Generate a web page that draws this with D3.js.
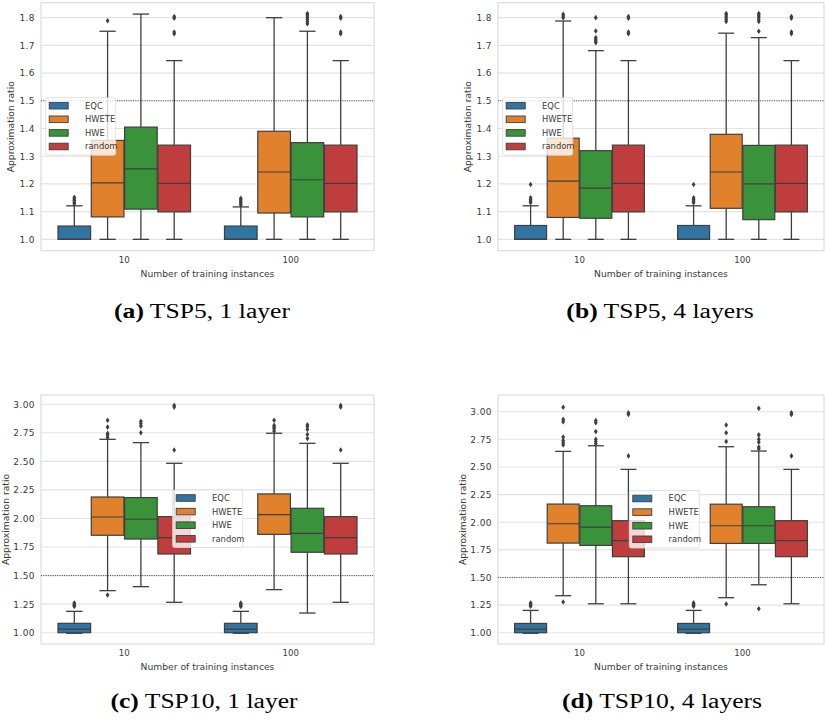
<!DOCTYPE html>
<html>
<head>
<meta charset="utf-8">
<script src="https://cdn.jsdelivr.net/npm/d3@7"></script>
<style>
body { margin: 0; background: #fff; }
</style>
</head>
<body>
<svg id="fig" width="825" height="720" font-family="DejaVu Sans, sans-serif"></svg>
<script>
// ---- data ----
var hues = ["EQC", "HWETE", "HWE", "random"];
var hueColors = ["#3274a1", "#e1812c", "#3a923a", "#c03d3e"];
var groups = ["10", "100"];
var captionTags = ["(a)", "(b)", "(c)", "(d)"];
var captionTexts = ["TSP5, 1 layer", "TSP5, 4 layers", "TSP10, 1 layer", "TSP10, 4 layers"];
var ticksTsp5 = [1.0, 1.1, 1.2, 1.3, 1.4, 1.5, 1.6, 1.7, 1.8];
var ticksTsp10 = [1.00, 1.25, 1.50, 1.75, 2.00, 2.25, 2.50, 2.75, 3.00];
var domainTsp5 = [0.959, 1.854];
var domainTsp10L1 = [0.901, 3.081];
var domainTsp10L4 = [0.898, 3.151];
var refLine = 1.5;

// box stats: [whislo, q1, median, q3, whishi], order: group 10 (EQC, HWETE, HWE, random), group 100 (...)
var tsp5L1 = [
  [1.0, 1.0, 1.0, 1.048, 1.121], [1.0, 1.081, 1.204, 1.357, 1.751], [1.0, 1.109, 1.254, 1.405, 1.813], [1.0, 1.099, 1.202, 1.340, 1.645],
  [1.0, 1.0, 1.0, 1.048, 1.117], [1.0, 1.095, 1.243, 1.390, 1.800], [1.0, 1.081, 1.215, 1.349, 1.751], [1.0, 1.099, 1.202, 1.340, 1.645]
];
var tsp5L1Out = [
  [1.128, 1.134, 1.140, 1.146, 1.152], [1.789], [], [1.742, 1.748, 1.798, 1.804],
  [1.124, 1.130, 1.136, 1.142, 1.148], [], [1.778, 1.786, 1.794, 1.802, 1.810, 1.815], [1.742, 1.748, 1.798, 1.804]
];
var tsp5L4 = [
  [1.0, 1.0, 1.0, 1.050, 1.121], [1.0, 1.079, 1.210, 1.365, 1.788], [1.0, 1.076, 1.185, 1.320, 1.681], [1.0, 1.099, 1.202, 1.340, 1.645],
  [1.0, 1.0, 1.0, 1.050, 1.121], [1.0, 1.112, 1.243, 1.379, 1.744], [1.0, 1.071, 1.200, 1.339, 1.728], [1.0, 1.099, 1.202, 1.340, 1.645]
];
var tsp5L4Out = [
  [1.132, 1.138, 1.144, 1.150, 1.198], [1.800, 1.806, 1.812], [1.710, 1.716, 1.722, 1.728, 1.752, 1.800], [1.742, 1.748, 1.798, 1.804],
  [1.132, 1.138, 1.144, 1.150, 1.198], [1.786, 1.794, 1.802, 1.810, 1.815], [1.751, 1.786, 1.794, 1.802, 1.810, 1.815], [1.742, 1.748, 1.798, 1.804]
];
var tsp10L1 = [
  [0.995, 1.0, 1.032, 1.082, 1.187], [1.368, 1.853, 2.013, 2.188, 2.693], [1.403, 1.820, 1.993, 2.183, 2.664], [1.266, 1.689, 1.832, 2.016, 2.483],
  [0.995, 1.0, 1.032, 1.082, 1.187], [1.377, 1.861, 2.034, 2.215, 2.746], [1.172, 1.704, 1.870, 2.089, 2.658], [1.266, 1.689, 1.832, 2.016, 2.483]
];
var tsp10L1Out = [
  [1.230, 1.240, 1.250, 1.260], [1.330, 2.710, 2.730, 2.745, 2.800, 2.860], [2.750, 2.810, 2.830, 2.850], [2.600, 2.975, 2.990],
  [1.230, 1.240, 1.250, 1.260], [2.765, 2.785, 2.800, 2.815, 2.860], [2.700, 2.735, 2.780, 2.805, 2.820], [2.600, 2.975, 2.990]
];
var tsp10L4 = [
  [0.995, 1.0, 1.033, 1.084, 1.202], [1.335, 1.811, 1.986, 2.164, 2.641], [1.262, 1.790, 1.956, 2.149, 2.692], [1.262, 1.688, 1.833, 2.014, 2.478],
  [0.995, 1.0, 1.033, 1.084, 1.202], [1.317, 1.808, 1.968, 2.163, 2.683], [1.434, 1.808, 1.968, 2.140, 2.644], [1.262, 1.688, 1.833, 2.014, 2.478]
];
var tsp10L4Out = [
  [1.240, 1.250, 1.260, 1.270], [1.278, 2.700, 2.720, 2.740, 2.770, 2.910, 2.930, 3.040], [2.710, 2.730, 2.750, 2.820, 2.900, 2.920], [2.600, 2.975, 2.990],
  [1.240, 1.250, 1.260, 1.270], [1.260, 2.730, 2.810, 2.880], [1.217, 2.665, 2.680, 2.725, 2.750, 2.790, 3.030], [2.600, 2.975, 2.990]
];

// ---- layout ----
var panels = [
  { stats: tsp5L1,  out: tsp5L1Out,  ticks: ticksTsp5,  domain: domainTsp5,    fmt: ".1f", x0: 41,  x1: 374, y0: 2.7, y1: 250.7, cx: 202, cy: 318 },
  { stats: tsp5L4,  out: tsp5L4Out,  ticks: ticksTsp5,  domain: domainTsp5,    fmt: ".1f", x0: 498, x1: 824, y0: 2.7, y1: 250.7, cx: 660, cy: 318 },
  { stats: tsp10L1, out: tsp10L1Out, ticks: ticksTsp10, domain: domainTsp10L1, fmt: ".2f", x0: 41,  x1: 374, y0: 395, y1: 644,   cx: 204, cy: 708 },
  { stats: tsp10L4, out: tsp10L4Out, ticks: ticksTsp10, domain: domainTsp10L4, fmt: ".2f", x0: 498, x1: 824, y0: 395, y1: 644,   cx: 662, cy: 708 }
];
var legendPos = [[4.7, 95], [4.7, 95], [131.7, 95], [131.3, 95.5]];
var edge = "#3f3f3f";
var labelColor = "#3a3a3a";
var svg = d3.select("#fig");

panels.forEach(function(p, pi) {
  var g = svg.append("g");
  var y = d3.scaleLinear().domain(p.domain).range([p.y1, p.y0]);
  var x = d3.scaleBand().domain(groups).range([p.x0, p.x1]);
  var hx = d3.scaleBand().domain(hues).range([0, x.bandwidth() * 0.8]);
  var boxW = hx.bandwidth() * 0.98;

  // grid
  g.append("g").selectAll("line").data(p.ticks).enter().append("line")
    .attr("x1", p.x0).attr("x2", p.x1)
    .attr("y1", function(d) { return y(d); }).attr("y2", function(d) { return y(d); })
    .attr("stroke", "#e3e3e3").attr("stroke-width", 1.1);

  // frame
  g.append("rect").attr("x", p.x0).attr("y", p.y0)
    .attr("width", p.x1 - p.x0).attr("height", p.y1 - p.y0)
    .attr("fill", "none").attr("stroke", "#d6d6d6").attr("stroke-width", 1);

  // y axis
  var yAxis = g.append("g").attr("transform", "translate(" + p.x0 + ",0)")
    .call(d3.axisLeft(y).tickValues(p.ticks).tickFormat(d3.format(p.fmt)).tickSize(0).tickPadding(6));
  yAxis.select(".domain").remove();
  yAxis.selectAll("text").attr("font-size", 9).attr("fill", labelColor)
    .style("font-family", "DejaVu Sans").attr("letter-spacing", 0.4);

  // x axis
  var xAxis = g.append("g").attr("transform", "translate(0," + p.y1 + ")")
    .call(d3.axisBottom(x).tickSize(0).tickPadding(6));
  xAxis.select(".domain").remove();
  xAxis.selectAll("text").attr("font-size", 8.6).attr("fill", labelColor).style("font-family", "DejaVu Sans");

  g.append("text").attr("x", (p.x0 + p.x1) / 2).attr("y", p.y1 + 26)
    .attr("text-anchor", "middle").attr("font-size", 9.2).attr("fill", labelColor)
    .text("Number of training instances");

  var ylx = p.x0 - (p.fmt === ".1f" ? 30 : 35.5);
  g.append("text").attr("transform", "translate(" + ylx + "," + ((p.y0 + p.y1) / 2) + ") rotate(-90)")
    .attr("text-anchor", "middle").attr("dy", "0.35em").attr("font-size", 9.2).attr("fill", labelColor)
    .text("Approximation ratio");

  // boxes
  var items = p.stats.map(function(s, i) {
    var gi = Math.floor(i / hues.length), hi = i % hues.length;
    var cx = x(groups[gi]) + x.bandwidth() * 0.1 + hx(hues[hi]) + hx.bandwidth() / 2;
    return { s: s, out: p.out[i], cx: cx, color: hueColors[hi] };
  });
  var box = g.append("g").selectAll("g").data(items).enter().append("g");
  box.append("line").attr("x1", function(d) { return d.cx; }).attr("x2", function(d) { return d.cx; })
    .attr("y1", function(d) { return y(d.s[0]); }).attr("y2", function(d) { return y(d.s[1]); })
    .attr("stroke", edge).attr("stroke-width", 1.3);
  box.append("line").attr("x1", function(d) { return d.cx; }).attr("x2", function(d) { return d.cx; })
    .attr("y1", function(d) { return y(d.s[3]); }).attr("y2", function(d) { return y(d.s[4]); })
    .attr("stroke", edge).attr("stroke-width", 1.3);
  [0, 4].forEach(function(k) {
    box.append("line").attr("x1", function(d) { return d.cx - boxW / 4; }).attr("x2", function(d) { return d.cx + boxW / 4; })
      .attr("y1", function(d) { return y(d.s[k]); }).attr("y2", function(d) { return y(d.s[k]); })
      .attr("stroke", edge).attr("stroke-width", 1.3);
  });
  box.append("rect").attr("x", function(d) { return d.cx - boxW / 2; }).attr("width", boxW)
    .attr("y", function(d) { return y(d.s[3]); }).attr("height", function(d) { return y(d.s[1]) - y(d.s[3]); })
    .attr("fill", function(d) { return d.color; }).attr("stroke", edge).attr("stroke-width", 1.2);
  box.append("line").attr("x1", function(d) { return d.cx - boxW / 2; }).attr("x2", function(d) { return d.cx + boxW / 2; })
    .attr("y1", function(d) { return y(d.s[2]); }).attr("y2", function(d) { return y(d.s[2]); })
    .attr("stroke", edge).attr("stroke-width", 1.2);
  box.selectAll("path").data(function(d) { return d.out.map(function(v) { return { v: v, cx: d.cx }; }); })
    .enter().append("path")
    .attr("transform", function(d) { return "translate(" + d.cx + "," + y(d.v) + ")"; })
    .attr("d", "M0,-2.8L1.9,0L0,2.8L-1.9,0Z").attr("fill", edge);

  // reference line
  g.append("line").attr("x1", p.x0).attr("x2", p.x1).attr("y1", y(refLine)).attr("y2", y(refLine))
    .attr("stroke", "#222").attr("stroke-width", 0.8).attr("stroke-dasharray", "1,1.3");

  // legend
  var lx = p.x0 + legendPos[pi][0], ly = p.y0 + legendPos[pi][1];
  var lg = g.append("g").attr("transform", "translate(" + lx + "," + ly + ")");
  lg.append("rect").attr("width", 70).attr("height", 57.5).attr("rx", 2)
    .attr("fill", "#fff").attr("fill-opacity", 0.8).attr("stroke", "#d9d9d9").attr("stroke-width", 0.8);
  var le = lg.selectAll("g").data(hues).enter().append("g")
    .attr("transform", function(d, i) { return "translate(0," + (8 + i * 13.6) + ")"; });
  le.append("rect").attr("x", 3.5).attr("y", -3.3).attr("width", 19).attr("height", 6.6)
    .attr("fill", function(d, i) { return hueColors[i]; }).attr("stroke", edge).attr("stroke-width", 0.9);
  le.append("text").attr("x", 39.3).attr("dy", "0.35em").attr("font-size", 8.4).attr("fill", labelColor)
    .text(function(d) { return d; });

  // caption (Computer Modern look: serif, slightly widened)
  var cap = svg.append("text").attr("transform", "translate(" + p.cx + "," + p.cy + ") scale(1.28,1)")
    .attr("text-anchor", "middle")
    .style("font-family", "'Liberation Serif', serif").attr("font-size", 20).attr("fill", "#000");
  cap.append("tspan").attr("font-weight", "bold").text(captionTags[pi]);
  cap.append("tspan").text(" " + captionTexts[pi]);
});
</script>
</body>
</html>
